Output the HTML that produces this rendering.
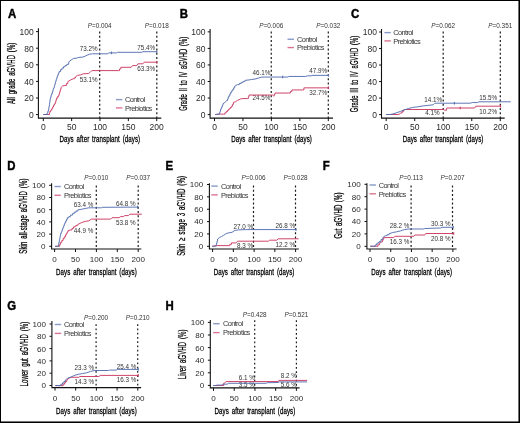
<!DOCTYPE html>
<html><head><meta charset="utf-8"><style>
html,body{margin:0;padding:0;background:#fff;}
#fig{position:absolute;left:0;top:0;width:520px;height:423px;box-sizing:border-box;border:1px solid #000;background:#fff;overflow:hidden;}
svg{position:absolute;left:-1px;top:-1px;will-change:transform;}
text{font-family:"Liberation Sans", sans-serif;}
</style></head><body><div id="fig">
<svg width="520" height="423" viewBox="0 0 520 423">
<g><text transform="translate(7.95,17.90) scale(0.92,1)" font-size="12.4" font-weight="bold" fill="#000" stroke="#000" stroke-width="0.45">A</text><path d="M38.40 28.30V118.10H161.25" fill="none" stroke="#111" stroke-width="1.1"/><path d="M36.00 114.60H38.40 M36.00 98.00H38.40 M36.00 81.40H38.40 M36.00 64.80H38.40 M36.00 48.20H38.40 M36.00 31.60H38.40 M43.30 118.10V121.10 M71.65 118.10V121.10 M100.00 118.10V121.10 M128.35 118.10V121.10 M156.70 118.10V121.10" stroke="#111" stroke-width="1"/><text x="33.80" y="117.95" font-size="8.50" text-anchor="end" fill="#2a2a2a">0</text><text x="33.80" y="101.35" font-size="8.50" text-anchor="end" fill="#2a2a2a">20</text><text x="33.80" y="84.75" font-size="8.50" text-anchor="end" fill="#2a2a2a">40</text><text x="33.80" y="68.15" font-size="8.50" text-anchor="end" fill="#2a2a2a">60</text><text x="33.80" y="51.55" font-size="8.50" text-anchor="end" fill="#2a2a2a">80</text><text x="33.80" y="34.95" font-size="8.50" text-anchor="end" fill="#2a2a2a">100</text><text x="43.30" y="130.10" font-size="8.50" text-anchor="middle" fill="#2a2a2a">0</text><text x="71.65" y="130.10" font-size="8.50" text-anchor="middle" fill="#2a2a2a">50</text><text x="100.00" y="130.10" font-size="8.50" text-anchor="middle" fill="#2a2a2a">100</text><text x="128.35" y="130.10" font-size="8.50" text-anchor="middle" fill="#2a2a2a">150</text><text x="156.70" y="130.10" font-size="8.50" text-anchor="middle" fill="#2a2a2a">200</text><text x="99.83" y="142.30" font-size="9.2" font-weight="normal" text-anchor="middle" textLength="80.8" lengthAdjust="spacingAndGlyphs" fill="#000" stroke="#000" stroke-width="0.3" word-spacing="1.6" letter-spacing="0.1">Days after transplant (days)</text><text transform="translate(15.49,73.30) rotate(-90)" x="0" y="0" font-size="10.4" font-weight="normal" text-anchor="middle" textLength="61.40" lengthAdjust="spacingAndGlyphs" fill="#000" stroke="#000" stroke-width="0.3" word-spacing="1.8" letter-spacing="0.2">All grade aGVHD (%)</text><path d="M99.70 31.60V118.10" stroke="#1a1a1a" stroke-width="1.2" stroke-dasharray="1.8 2.45"/><path d="M156.80 31.60V118.10" stroke="#1a1a1a" stroke-width="1.2" stroke-dasharray="1.8 2.45"/><text x="99.70" y="27.80" font-size="6.4" text-anchor="middle" fill="#333"><tspan font-style="italic">P</tspan>=0.004</text><text x="156.80" y="27.80" font-size="6.4" text-anchor="middle" fill="#333"><tspan font-style="italic">P</tspan>=0.018</text><path d="M116.00 99.60h6.4" stroke="#5470b0" stroke-width="1.4" opacity="0.7"/><path d="M116.00 107.90h6.4" stroke="#cc3a62" stroke-width="1.4" opacity="0.7"/><text x="124.90" y="102.30" font-size="7.4" textLength="20.2" lengthAdjust="spacing" fill="#333">Control</text><text x="124.90" y="110.60" font-size="7.4" textLength="27.4" lengthAdjust="spacing" fill="#333">Prebiotics</text><text x="97.50" y="50.70" font-size="6.3" text-anchor="end" fill="#333">73.2%</text><text x="97.50" y="81.70" font-size="6.3" text-anchor="end" fill="#333">53.1%</text><text x="155.20" y="49.80" font-size="6.3" text-anchor="end" fill="#333">75.4%</text><text x="155.20" y="71.10" font-size="6.3" text-anchor="end" fill="#333">63.3%</text><path d="M43.30 114.50 L49.00 114.50 L49.45 114.50 L49.45 112.95 L49.90 112.95 L49.90 111.40 L50.80 111.40 L50.80 110.08 L51.70 110.08 L51.70 108.75 L52.60 108.75 L52.60 106.97 L53.50 106.97 L53.50 105.20 L54.40 105.20 L54.40 103.85 L55.30 103.85 L55.30 102.50 L55.73 102.50 L55.73 101.00 L56.17 101.00 L56.17 99.50 L56.60 99.50 L56.60 98.00 L57.75 98.00 L57.75 96.20 L58.90 96.20 L58.90 94.40 L59.33 94.40 L59.33 93.03 L59.77 93.03 L59.77 91.67 L60.20 91.67 L60.20 90.30 L60.65 90.30 L60.65 88.85 L61.10 88.85 L61.10 87.40 L62.50 86.00 L64.90 85.50 L66.35 85.50 L66.35 83.58 L67.80 83.58 L67.80 81.65 L70.20 80.20 L73.10 78.80 L74.30 78.80 L74.30 77.80 L75.50 77.80 L75.50 76.80 L77.40 75.40 L80.80 74.90 L83.20 73.80 L88.50 73.50 L89.90 72.50 L91.80 70.60 L118.30 70.60 L119.55 70.60 L119.55 68.95 L120.80 68.95 L120.80 67.30 L131.20 67.30 L132.50 65.60 L136.80 65.60 L138.00 63.80 L142.90 63.80 L144.20 62.20 L156.80 62.20" fill="none" stroke="#cc3a62" stroke-width="0.95" stroke-linejoin="miter"/><path d="M43.30 114.50 L46.50 114.50 L47.17 114.50 L47.17 112.87 L47.83 112.87 L47.83 111.23 L48.50 111.23 L48.50 109.60 L48.80 109.60 L48.80 107.83 L49.10 107.83 L49.10 106.07 L49.40 106.07 L49.40 104.30 L49.62 104.30 L49.62 102.72 L49.85 102.72 L49.85 101.15 L50.07 101.15 L50.07 99.58 L50.30 99.58 L50.30 98.00 L50.77 98.00 L50.77 96.50 L51.23 96.50 L51.23 95.00 L51.70 95.00 L51.70 93.50 L52.35 93.50 L52.35 91.70 L53.00 91.70 L53.00 89.90 L53.80 88.00 L54.20 88.00 L54.20 86.54 L54.60 86.54 L54.60 85.08 L55.00 85.08 L55.00 83.62 L55.40 83.62 L55.40 82.16 L55.80 82.16 L55.80 80.70 L56.27 80.70 L56.27 79.25 L56.75 79.25 L56.75 77.80 L57.23 77.80 L57.23 76.35 L57.70 76.35 L57.70 74.90 L58.40 74.90 L58.40 73.25 L59.10 73.25 L59.10 71.60 L60.60 71.60 L60.60 69.60 L62.05 69.60 L62.05 68.17 L63.50 68.17 L63.50 66.75 L65.15 66.75 L65.15 65.53 L66.80 65.53 L66.80 64.30 L68.75 64.30 L68.75 61.90 L71.15 60.00 L73.60 58.40 L76.90 58.10 L78.80 57.40 L82.70 57.10 L85.10 56.20 L87.00 55.20 L89.40 54.25 L92.30 53.80 L107.80 53.80 L108.50 52.90 L116.50 52.90 L117.70 52.30 L141.70 52.30 L142.90 51.70 L156.80 51.70" fill="none" stroke="#5470b0" stroke-width="0.95" stroke-linejoin="miter"/><path d="M111.50 51.60V54.20" stroke="#5470b0" stroke-width="1.1"/><path d="M156.80 50.40V53.00" stroke="#5470b0" stroke-width="1.1"/><path d="M156.80 60.90V63.50" stroke="#cc3a62" stroke-width="1.1"/></g>
<g><text transform="translate(179.65,17.90) scale(0.92,1)" font-size="12.4" font-weight="bold" fill="#000" stroke="#000" stroke-width="0.45">B</text><path d="M210.10 28.90V118.10H333.00" fill="none" stroke="#111" stroke-width="1.1"/><path d="M207.70 114.60H210.10 M207.70 98.05H210.10 M207.70 81.50H210.10 M207.70 64.95H210.10 M207.70 48.40H210.10 M207.70 31.85H210.10 M214.50 118.10V121.10 M242.95 118.10V121.10 M271.40 118.10V121.10 M299.85 118.10V121.10 M328.30 118.10V121.10" stroke="#111" stroke-width="1"/><text x="205.50" y="117.95" font-size="8.50" text-anchor="end" fill="#2a2a2a">0</text><text x="205.50" y="101.40" font-size="8.50" text-anchor="end" fill="#2a2a2a">20</text><text x="205.50" y="84.85" font-size="8.50" text-anchor="end" fill="#2a2a2a">40</text><text x="205.50" y="68.30" font-size="8.50" text-anchor="end" fill="#2a2a2a">60</text><text x="205.50" y="51.75" font-size="8.50" text-anchor="end" fill="#2a2a2a">80</text><text x="205.50" y="35.20" font-size="8.50" text-anchor="end" fill="#2a2a2a">100</text><text x="214.50" y="130.10" font-size="8.50" text-anchor="middle" fill="#2a2a2a">0</text><text x="242.95" y="130.10" font-size="8.50" text-anchor="middle" fill="#2a2a2a">50</text><text x="271.40" y="130.10" font-size="8.50" text-anchor="middle" fill="#2a2a2a">100</text><text x="299.85" y="130.10" font-size="8.50" text-anchor="middle" fill="#2a2a2a">150</text><text x="328.30" y="130.10" font-size="8.50" text-anchor="middle" fill="#2a2a2a">200</text><text x="271.55" y="142.30" font-size="9.2" font-weight="normal" text-anchor="middle" textLength="80.8" lengthAdjust="spacingAndGlyphs" fill="#000" stroke="#000" stroke-width="0.3" word-spacing="1.6" letter-spacing="0.1">Days after transplant (days)</text><text transform="translate(187.09,73.70) rotate(-90)" x="0" y="0" font-size="10.4" font-weight="normal" text-anchor="middle" textLength="74.20" lengthAdjust="spacingAndGlyphs" fill="#000" stroke="#000" stroke-width="0.3" word-spacing="1.8" letter-spacing="0.2">Grade II to IV aGVHD (%)</text><path d="M271.25 31.60V118.10" stroke="#1a1a1a" stroke-width="1.2" stroke-dasharray="1.8 2.45"/><path d="M328.30 31.60V118.10" stroke="#1a1a1a" stroke-width="1.2" stroke-dasharray="1.8 2.45"/><text x="271.25" y="27.80" font-size="6.4" text-anchor="middle" fill="#333"><tspan font-style="italic">P</tspan>=0.006</text><text x="328.30" y="27.80" font-size="6.4" text-anchor="middle" fill="#333"><tspan font-style="italic">P</tspan>=0.032</text><path d="M287.50 39.25h6.4" stroke="#5470b0" stroke-width="1.4" opacity="0.7"/><path d="M287.50 47.55h6.4" stroke="#cc3a62" stroke-width="1.4" opacity="0.7"/><text x="297.00" y="41.95" font-size="7.4" textLength="20.2" lengthAdjust="spacing" fill="#333">Control</text><text x="297.00" y="50.25" font-size="7.4" textLength="27.4" lengthAdjust="spacing" fill="#333">Prebiotics</text><text x="270.40" y="74.60" font-size="6.3" text-anchor="end" fill="#333">46.1%</text><text x="270.40" y="100.20" font-size="6.3" text-anchor="end" fill="#333">24.5%</text><text x="327.20" y="73.00" font-size="6.3" text-anchor="end" fill="#333">47.9%</text><text x="327.20" y="94.90" font-size="6.3" text-anchor="end" fill="#333">32.7%</text><path d="M215.20 114.50 L220.40 114.10 L223.60 114.15 L224.90 114.15 L224.90 112.85 L226.20 112.85 L226.20 111.55 L227.50 111.55 L227.50 110.25 L228.80 110.25 L228.80 108.95 L230.10 108.95 L230.10 107.65 L231.40 107.65 L231.40 106.35 L232.40 106.35 L232.40 104.40 L233.40 104.40 L233.40 102.45 L235.30 101.85 L237.30 100.55 L240.50 98.95 L243.10 98.55 L247.70 98.55 L248.35 98.55 L248.35 96.80 L249.00 96.80 L249.00 95.05 L272.70 95.05 L273.50 95.85 L274.25 95.85 L274.25 94.45 L275.00 94.45 L275.00 93.05 L288.80 93.05 L290.35 93.05 L290.35 91.50 L291.90 91.50 L291.90 89.95 L302.70 89.95 L303.90 89.95 L303.90 87.85 L328.50 87.85" fill="none" stroke="#cc3a62" stroke-width="0.95" stroke-linejoin="miter"/><path d="M215.20 114.50 L219.10 114.10 L219.57 114.10 L219.57 112.66 L220.05 112.66 L220.05 111.22 L220.53 111.22 L220.53 109.79 L221.00 109.79 L221.00 108.35 L221.67 108.35 L221.67 106.82 L222.33 106.82 L222.33 105.28 L223.00 105.28 L223.00 103.75 L224.90 102.45 L226.90 100.55 L227.53 100.55 L227.53 99.02 L228.17 99.02 L228.17 97.48 L228.80 97.48 L228.80 95.95 L229.80 95.95 L229.80 94.00 L230.80 94.00 L230.80 92.05 L231.75 92.05 L231.75 90.75 L232.70 90.75 L232.70 89.45 L233.70 89.45 L233.70 87.85 L234.70 87.85 L234.70 86.25 L237.30 84.65 L239.25 84.65 L239.25 83.50 L241.20 83.50 L241.20 82.35 L243.15 82.35 L243.15 81.35 L245.10 81.35 L245.10 80.35 L249.00 79.95 L251.60 79.45 L255.00 79.05 L258.10 78.15 L261.90 77.05 L288.10 77.05 L288.80 76.45 L305.80 76.45 L307.30 75.85 L311.20 75.85 L311.90 75.35 L328.50 75.35" fill="none" stroke="#5470b0" stroke-width="0.95" stroke-linejoin="miter"/><path d="M282.70 75.75V78.35" stroke="#5470b0" stroke-width="1.1"/><path d="M328.50 74.05V76.65" stroke="#5470b0" stroke-width="1.1"/><path d="M328.50 86.55V89.15" stroke="#cc3a62" stroke-width="1.1"/></g>
<g><text transform="translate(350.90,17.90) scale(0.92,1)" font-size="12.4" font-weight="bold" fill="#000" stroke="#000" stroke-width="0.45">C</text><path d="M381.50 29.10V118.10H504.70" fill="none" stroke="#111" stroke-width="1.1"/><path d="M379.10 114.60H381.50 M379.10 98.08H381.50 M379.10 81.56H381.50 M379.10 65.04H381.50 M379.10 48.52H381.50 M379.10 32.00H381.50 M386.20 118.10V121.10 M414.73 118.10V121.10 M443.25 118.10V121.10 M471.77 118.10V121.10 M500.30 118.10V121.10" stroke="#111" stroke-width="1"/><text x="376.90" y="117.95" font-size="8.50" text-anchor="end" fill="#2a2a2a">0</text><text x="376.90" y="101.43" font-size="8.50" text-anchor="end" fill="#2a2a2a">20</text><text x="376.90" y="84.91" font-size="8.50" text-anchor="end" fill="#2a2a2a">40</text><text x="376.90" y="68.39" font-size="8.50" text-anchor="end" fill="#2a2a2a">60</text><text x="376.90" y="51.87" font-size="8.50" text-anchor="end" fill="#2a2a2a">80</text><text x="376.90" y="35.35" font-size="8.50" text-anchor="end" fill="#2a2a2a">100</text><text x="386.20" y="130.10" font-size="8.50" text-anchor="middle" fill="#2a2a2a">0</text><text x="414.73" y="130.10" font-size="8.50" text-anchor="middle" fill="#2a2a2a">50</text><text x="443.25" y="130.10" font-size="8.50" text-anchor="middle" fill="#2a2a2a">100</text><text x="471.77" y="130.10" font-size="8.50" text-anchor="middle" fill="#2a2a2a">150</text><text x="500.30" y="130.10" font-size="8.50" text-anchor="middle" fill="#2a2a2a">200</text><text x="443.10" y="142.30" font-size="9.2" font-weight="normal" text-anchor="middle" textLength="80.8" lengthAdjust="spacingAndGlyphs" fill="#000" stroke="#000" stroke-width="0.3" word-spacing="1.6" letter-spacing="0.1">Days after transplant (days)</text><text transform="translate(358.34,73.90) rotate(-90)" x="0" y="0" font-size="10.4" font-weight="normal" text-anchor="middle" textLength="76.60" lengthAdjust="spacingAndGlyphs" fill="#000" stroke="#000" stroke-width="0.3" word-spacing="1.8" letter-spacing="0.2">Grade III to IV aGVHD (%)</text><path d="M443.20 31.60V118.10" stroke="#1a1a1a" stroke-width="1.2" stroke-dasharray="1.8 2.45"/><path d="M500.30 31.60V118.10" stroke="#1a1a1a" stroke-width="1.2" stroke-dasharray="1.8 2.45"/><text x="443.20" y="27.80" font-size="6.4" text-anchor="middle" fill="#333"><tspan font-style="italic">P</tspan>=0.062</text><text x="500.30" y="27.80" font-size="6.4" text-anchor="middle" fill="#333"><tspan font-style="italic">P</tspan>=0.351</text><path d="M384.40 32.60h6.4" stroke="#5470b0" stroke-width="1.4" opacity="0.7"/><path d="M384.40 40.90h6.4" stroke="#cc3a62" stroke-width="1.4" opacity="0.7"/><text x="393.30" y="35.30" font-size="7.4" textLength="20.2" lengthAdjust="spacing" fill="#333">Control</text><text x="393.30" y="43.60" font-size="7.4" textLength="27.4" lengthAdjust="spacing" fill="#333">Prebiotics</text><text x="442.00" y="102.10" font-size="6.3" text-anchor="end" fill="#333">14.1%</text><text x="439.50" y="115.10" font-size="6.3" text-anchor="end" fill="#333">4.1%</text><text x="497.00" y="99.90" font-size="6.3" text-anchor="end" fill="#333">15.5%</text><text x="497.00" y="113.80" font-size="6.3" text-anchor="end" fill="#333">10.2%</text><path d="M386.10 114.50 L398.80 114.50 L400.90 112.90 L402.25 112.90 L402.25 111.40 L403.60 111.40 L403.60 109.90 L404.90 109.50 L443.30 109.50 L444.60 110.20 L446.60 110.20 L446.60 108.20 L447.20 108.00 L474.60 108.00 L475.80 106.20 L500.60 106.20" fill="none" stroke="#cc3a62" stroke-width="0.95" stroke-linejoin="miter"/><path d="M386.10 114.50 L390.10 114.50 L392.80 114.00 L396.20 112.90 L400.20 111.50 L404.20 109.90 L408.30 108.60 L412.30 107.50 L417.70 106.80 L423.10 105.90 L427.10 105.50 L433.20 104.80 L434.50 103.50 L435.90 103.20 L470.30 103.20 L472.50 102.55 L477.50 102.55 L479.00 101.80 L510.70 101.80" fill="none" stroke="#5470b0" stroke-width="0.95" stroke-linejoin="miter"/><path d="M454.40 101.90V104.50" stroke="#5470b0" stroke-width="1.1"/><path d="M460.20 106.70V109.30" stroke="#cc3a62" stroke-width="1.1"/><path d="M500.60 104.90V107.50" stroke="#cc3a62" stroke-width="1.1"/></g>
<g><text transform="translate(7.15,169.50) scale(0.92,1)" font-size="12.4" font-weight="bold" fill="#000" stroke="#000" stroke-width="0.45">D</text><path d="M51.60 183.20V249.00H141.30" fill="none" stroke="#111" stroke-width="1.1"/><path d="M49.20 246.30H51.60 M49.20 234.10H51.60 M49.20 221.90H51.60 M49.20 209.70H51.60 M49.20 197.50H51.60 M49.20 185.30H51.60 M54.60 249.00V252.00 M75.50 249.00V252.00 M96.40 249.00V252.00 M117.30 249.00V252.00 M138.20 249.00V252.00" stroke="#111" stroke-width="1"/><text x="45.40" y="249.10" font-size="8.07" text-anchor="end" fill="#2a2a2a">0</text><text x="45.40" y="236.90" font-size="8.07" text-anchor="end" fill="#2a2a2a">20</text><text x="45.40" y="224.70" font-size="8.07" text-anchor="end" fill="#2a2a2a">40</text><text x="45.40" y="212.50" font-size="8.07" text-anchor="end" fill="#2a2a2a">60</text><text x="45.40" y="200.30" font-size="8.07" text-anchor="end" fill="#2a2a2a">80</text><text x="45.40" y="188.10" font-size="8.07" text-anchor="end" fill="#2a2a2a">100</text><text x="54.60" y="262.00" font-size="8.07" text-anchor="middle" fill="#2a2a2a">0</text><text x="75.50" y="262.00" font-size="8.07" text-anchor="middle" fill="#2a2a2a">50</text><text x="96.40" y="262.00" font-size="8.07" text-anchor="middle" fill="#2a2a2a">100</text><text x="117.30" y="262.00" font-size="8.07" text-anchor="middle" fill="#2a2a2a">150</text><text x="138.20" y="262.00" font-size="8.07" text-anchor="middle" fill="#2a2a2a">200</text><text x="96.45" y="274.50" font-size="9.2" font-weight="normal" text-anchor="middle" textLength="80.8" lengthAdjust="spacingAndGlyphs" fill="#000" stroke="#000" stroke-width="0.3" word-spacing="1.6" letter-spacing="0.1">Days after transplant (days)</text><text transform="translate(26.94,216.10) rotate(-90)" x="0" y="0" font-size="10.4" font-weight="normal" text-anchor="middle" textLength="75.20" lengthAdjust="spacingAndGlyphs" fill="#000" stroke="#000" stroke-width="0.3" word-spacing="1.8" letter-spacing="0.2">Skin all-stage aGVHD (%)</text><path d="M96.30 185.60V249.00" stroke="#1a1a1a" stroke-width="1.2" stroke-dasharray="1.8 2.45"/><path d="M138.20 185.60V249.00" stroke="#1a1a1a" stroke-width="1.2" stroke-dasharray="1.8 2.45"/><text x="96.30" y="180.30" font-size="6.4" text-anchor="middle" fill="#333"><tspan font-style="italic">P</tspan>=0.010</text><text x="138.20" y="180.30" font-size="6.4" text-anchor="middle" fill="#333"><tspan font-style="italic">P</tspan>=0.037</text><path d="M54.40 186.50h6.4" stroke="#5470b0" stroke-width="1.4" opacity="0.7"/><path d="M54.40 195.30h6.4" stroke="#cc3a62" stroke-width="1.4" opacity="0.7"/><text x="64.00" y="189.20" font-size="7.4" textLength="20.2" lengthAdjust="spacing" fill="#333">Control</text><text x="64.00" y="198.00" font-size="7.4" textLength="27.4" lengthAdjust="spacing" fill="#333">Prebiotics</text><text x="93.40" y="206.80" font-size="6.3" text-anchor="end" fill="#333">63.4 %</text><text x="93.40" y="233.00" font-size="6.3" text-anchor="end" fill="#333">44.9 %</text><text x="135.50" y="205.70" font-size="6.3" text-anchor="end" fill="#333">64.8 %</text><text x="135.50" y="224.80" font-size="6.3" text-anchor="end" fill="#333">53.8 %</text><path d="M55.10 246.30 L58.80 246.30 L59.70 246.30 L59.70 244.30 L60.60 244.30 L60.60 242.30 L61.85 242.30 L61.85 240.45 L63.10 240.45 L63.10 238.60 L64.30 238.60 L64.30 236.75 L65.50 236.75 L65.50 234.90 L66.33 234.90 L66.33 233.47 L67.17 233.47 L67.17 232.03 L68.00 232.03 L68.00 230.60 L70.50 230.00 L72.00 230.00 L72.00 228.45 L73.50 228.45 L73.50 226.90 L74.93 226.90 L74.93 226.10 L76.37 226.10 L76.37 225.30 L77.80 225.30 L77.80 224.50 L81.50 222.60 L85.20 221.40 L88.90 220.80 L91.40 219.10 L110.60 219.10 L112.00 217.70 L119.10 217.70 L120.60 216.60 L123.40 216.60 L124.80 215.60 L128.40 215.60 L129.80 214.20 L141.90 214.20" fill="none" stroke="#cc3a62" stroke-width="0.95" stroke-linejoin="miter"/><path d="M55.10 246.30 L58.20 246.30 L58.50 246.30 L58.50 244.68 L58.80 244.68 L58.80 243.05 L59.10 243.05 L59.10 241.43 L59.40 241.43 L59.40 239.80 L59.70 239.80 L59.70 238.28 L60.00 238.28 L60.00 236.75 L60.30 236.75 L60.30 235.22 L60.60 235.22 L60.60 233.70 L61.23 233.70 L61.23 232.07 L61.87 232.07 L61.87 230.43 L62.50 230.43 L62.50 228.80 L63.10 228.80 L63.10 227.25 L63.70 227.25 L63.70 225.70 L64.30 225.70 L64.30 224.15 L64.90 224.15 L64.90 222.60 L65.73 222.60 L65.73 220.97 L66.57 220.97 L66.57 219.33 L67.40 219.33 L67.40 217.70 L68.95 217.70 L68.95 216.45 L70.50 216.45 L70.50 215.20 L72.35 215.20 L72.35 213.70 L74.20 213.70 L74.20 212.20 L76.00 212.20 L76.00 211.05 L77.80 211.05 L77.80 209.90 L81.50 209.30 L85.20 208.50 L88.90 207.80 L101.40 207.80 L102.10 207.30 L137.60 207.10" fill="none" stroke="#5470b0" stroke-width="0.95" stroke-linejoin="miter"/><path d="M137.60 205.80V208.40" stroke="#5470b0" stroke-width="1.1"/></g>
<g><text transform="translate(165.40,169.50) scale(0.92,1)" font-size="12.4" font-weight="bold" fill="#000" stroke="#000" stroke-width="0.45">E</text><path d="M209.40 183.20V249.00H298.80" fill="none" stroke="#111" stroke-width="1.1"/><path d="M207.00 246.30H209.40 M207.00 233.94H209.40 M207.00 221.58H209.40 M207.00 209.22H209.40 M207.00 196.86H209.40 M207.00 184.50H209.40 M212.60 249.00V252.00 M233.35 249.00V252.00 M254.10 249.00V252.00 M274.85 249.00V252.00 M295.60 249.00V252.00" stroke="#111" stroke-width="1"/><text x="203.20" y="249.10" font-size="8.07" text-anchor="end" fill="#2a2a2a">0</text><text x="203.20" y="236.74" font-size="8.07" text-anchor="end" fill="#2a2a2a">20</text><text x="203.20" y="224.38" font-size="8.07" text-anchor="end" fill="#2a2a2a">40</text><text x="203.20" y="212.02" font-size="8.07" text-anchor="end" fill="#2a2a2a">60</text><text x="203.20" y="199.66" font-size="8.07" text-anchor="end" fill="#2a2a2a">80</text><text x="203.20" y="187.30" font-size="8.07" text-anchor="end" fill="#2a2a2a">100</text><text x="212.60" y="262.00" font-size="8.07" text-anchor="middle" fill="#2a2a2a">0</text><text x="233.35" y="262.00" font-size="8.07" text-anchor="middle" fill="#2a2a2a">50</text><text x="254.10" y="262.00" font-size="8.07" text-anchor="middle" fill="#2a2a2a">100</text><text x="274.85" y="262.00" font-size="8.07" text-anchor="middle" fill="#2a2a2a">150</text><text x="295.60" y="262.00" font-size="8.07" text-anchor="middle" fill="#2a2a2a">200</text><text x="254.10" y="274.50" font-size="9.2" font-weight="normal" text-anchor="middle" textLength="80.8" lengthAdjust="spacingAndGlyphs" fill="#000" stroke="#000" stroke-width="0.3" word-spacing="1.6" letter-spacing="0.1">Days after transplant (days)</text><text transform="translate(184.74,215.85) rotate(-90)" x="0" y="0" font-size="10.4" font-weight="normal" text-anchor="middle" textLength="79.90" lengthAdjust="spacingAndGlyphs" fill="#000" stroke="#000" stroke-width="0.3" word-spacing="1.8" letter-spacing="0.2">Skin ≥ stage 3 aGVHD (%)</text><path d="M253.50 185.60V249.00" stroke="#1a1a1a" stroke-width="1.2" stroke-dasharray="1.8 2.45"/><path d="M295.50 185.60V249.00" stroke="#1a1a1a" stroke-width="1.2" stroke-dasharray="1.8 2.45"/><text x="253.50" y="180.30" font-size="6.4" text-anchor="middle" fill="#333"><tspan font-style="italic">P</tspan>=0.006</text><text x="295.50" y="180.30" font-size="6.4" text-anchor="middle" fill="#333"><tspan font-style="italic">P</tspan>=0.028</text><path d="M211.30 186.10h6.4" stroke="#5470b0" stroke-width="1.4" opacity="0.7"/><path d="M211.30 194.90h6.4" stroke="#cc3a62" stroke-width="1.4" opacity="0.7"/><text x="221.00" y="188.80" font-size="7.4" textLength="20.2" lengthAdjust="spacing" fill="#333">Control</text><text x="221.00" y="197.60" font-size="7.4" textLength="27.4" lengthAdjust="spacing" fill="#333">Prebiotics</text><text x="253.00" y="228.90" font-size="6.3" text-anchor="end" fill="#333">27.0 %</text><text x="253.00" y="248.40" font-size="6.3" text-anchor="end" fill="#333">8.3 %</text><text x="295.20" y="228.20" font-size="6.3" text-anchor="end" fill="#333">26.8 %</text><text x="295.20" y="246.70" font-size="6.3" text-anchor="end" fill="#333">12.2 %</text><path d="M212.30 246.25 L216.60 245.60 L228.20 245.60 L229.85 245.60 L229.85 244.25 L231.50 244.25 L231.50 242.90 L235.80 242.90 L237.80 241.20 L268.30 241.20 L269.70 240.20 L276.90 240.20 L278.10 238.80 L298.60 238.80" fill="none" stroke="#cc3a62" stroke-width="0.95" stroke-linejoin="miter"/><path d="M212.30 246.25 L215.70 246.25 L216.15 246.25 L216.15 244.57 L216.60 244.57 L216.60 242.90 L217.10 242.90 L217.10 240.95 L217.60 240.95 L217.60 239.00 L219.50 237.60 L221.40 236.60 L223.80 235.20 L226.20 233.50 L229.10 232.80 L232.00 232.30 L234.90 230.40 L238.70 229.90 L245.50 229.60 L296.00 229.60" fill="none" stroke="#5470b0" stroke-width="0.95" stroke-linejoin="miter"/><path d="M296.00 228.30V230.90" stroke="#5470b0" stroke-width="1.1"/></g>
<g><text transform="translate(322.65,169.50) scale(0.92,1)" font-size="12.4" font-weight="bold" fill="#000" stroke="#000" stroke-width="0.45">F</text><path d="M366.90 183.20V249.00H456.60" fill="none" stroke="#111" stroke-width="1.1"/><path d="M364.50 246.30H366.90 M364.50 233.90H366.90 M364.50 221.50H366.90 M364.50 209.10H366.90 M364.50 196.70H366.90 M364.50 184.30H366.90 M370.00 249.00V252.00 M390.73 249.00V252.00 M411.45 249.00V252.00 M432.17 249.00V252.00 M452.90 249.00V252.00" stroke="#111" stroke-width="1"/><text x="360.70" y="249.10" font-size="8.07" text-anchor="end" fill="#2a2a2a">0</text><text x="360.70" y="236.70" font-size="8.07" text-anchor="end" fill="#2a2a2a">20</text><text x="360.70" y="224.30" font-size="8.07" text-anchor="end" fill="#2a2a2a">40</text><text x="360.70" y="211.90" font-size="8.07" text-anchor="end" fill="#2a2a2a">60</text><text x="360.70" y="199.50" font-size="8.07" text-anchor="end" fill="#2a2a2a">80</text><text x="360.70" y="187.10" font-size="8.07" text-anchor="end" fill="#2a2a2a">100</text><text x="370.00" y="262.00" font-size="8.07" text-anchor="middle" fill="#2a2a2a">0</text><text x="390.73" y="262.00" font-size="8.07" text-anchor="middle" fill="#2a2a2a">50</text><text x="411.45" y="262.00" font-size="8.07" text-anchor="middle" fill="#2a2a2a">100</text><text x="432.17" y="262.00" font-size="8.07" text-anchor="middle" fill="#2a2a2a">150</text><text x="452.90" y="262.00" font-size="8.07" text-anchor="middle" fill="#2a2a2a">200</text><text x="411.75" y="274.50" font-size="9.2" font-weight="normal" text-anchor="middle" textLength="80.8" lengthAdjust="spacingAndGlyphs" fill="#000" stroke="#000" stroke-width="0.3" word-spacing="1.6" letter-spacing="0.1">Days after transplant (days)</text><text transform="translate(341.96,215.50) rotate(-90)" x="0" y="0" font-size="11.0" font-weight="normal" text-anchor="middle" textLength="46.20" lengthAdjust="spacingAndGlyphs" fill="#000" stroke="#000" stroke-width="0.3" word-spacing="1.2" letter-spacing="0.15">Gut aGVHD (%)</text><path d="M411.10 185.60V249.00" stroke="#1a1a1a" stroke-width="1.2" stroke-dasharray="1.8 2.45"/><path d="M452.50 185.60V249.00" stroke="#1a1a1a" stroke-width="1.2" stroke-dasharray="1.8 2.45"/><text x="411.10" y="180.30" font-size="6.4" text-anchor="middle" fill="#333"><tspan font-style="italic">P</tspan>=0.113</text><text x="452.50" y="180.30" font-size="6.4" text-anchor="middle" fill="#333"><tspan font-style="italic">P</tspan>=0.207</text><path d="M369.50 185.00h6.4" stroke="#5470b0" stroke-width="1.4" opacity="0.7"/><path d="M369.50 193.80h6.4" stroke="#cc3a62" stroke-width="1.4" opacity="0.7"/><text x="378.75" y="187.70" font-size="7.4" textLength="20.2" lengthAdjust="spacing" fill="#333">Control</text><text x="378.75" y="196.50" font-size="7.4" textLength="27.4" lengthAdjust="spacing" fill="#333">Prebiotics</text><text x="409.40" y="228.20" font-size="6.3" text-anchor="end" fill="#333">28.2 %</text><text x="409.40" y="243.90" font-size="6.3" text-anchor="end" fill="#333">16.3 %</text><text x="450.60" y="226.30" font-size="6.3" text-anchor="end" fill="#333">30.3 %</text><text x="450.60" y="240.80" font-size="6.3" text-anchor="end" fill="#333">20.8 %</text><path d="M370.25 246.25 L376.50 246.25 L377.95 246.25 L377.95 244.82 L379.40 244.82 L379.40 243.40 L381.80 241.90 L382.43 241.90 L382.43 240.47 L383.07 240.47 L383.07 239.03 L383.70 239.03 L383.70 237.60 L393.80 237.60 L394.80 236.30 L413.80 236.30 L414.70 235.00 L424.80 235.00 L425.80 233.50 L453.70 233.50" fill="none" stroke="#cc3a62" stroke-width="0.95" stroke-linejoin="miter"/><path d="M370.25 246.25 L373.60 246.25 L375.05 246.25 L375.05 245.03 L376.50 245.03 L376.50 243.80 L377.95 243.80 L377.95 242.60 L379.40 242.60 L379.40 241.40 L381.07 241.40 L381.07 239.50 L382.75 239.50 L382.75 237.60 L385.20 235.70 L387.10 235.70 L387.10 234.72 L389.00 234.72 L389.00 233.75 L392.80 232.50 L396.70 231.80 L400.50 230.90 L404.40 229.60 L408.20 229.00 L423.40 229.00 L424.80 228.50 L440.70 228.00 L442.10 227.30 L453.20 227.30" fill="none" stroke="#5470b0" stroke-width="0.95" stroke-linejoin="miter"/><path d="M453.20 226.00V228.60" stroke="#5470b0" stroke-width="1.1"/><path d="M453.70 232.20V234.80" stroke="#cc3a62" stroke-width="1.1"/></g>
<g><text transform="translate(7.15,309.50) scale(0.92,1)" font-size="12.4" font-weight="bold" fill="#000" stroke="#000" stroke-width="0.45">G</text><path d="M51.90 321.00V387.60H141.10" fill="none" stroke="#111" stroke-width="1.1"/><path d="M49.50 385.50H51.90 M49.50 373.20H51.90 M49.50 360.90H51.90 M49.50 348.60H51.90 M49.50 336.30H51.90 M49.50 324.00H51.90 M55.00 387.60V390.60 M75.70 387.60V390.60 M96.40 387.60V390.60 M117.10 387.60V390.60 M137.80 387.60V390.60" stroke="#111" stroke-width="1"/><text x="45.90" y="388.40" font-size="8.07" text-anchor="end" fill="#2a2a2a">0</text><text x="45.90" y="376.10" font-size="8.07" text-anchor="end" fill="#2a2a2a">20</text><text x="45.90" y="363.80" font-size="8.07" text-anchor="end" fill="#2a2a2a">40</text><text x="45.90" y="351.50" font-size="8.07" text-anchor="end" fill="#2a2a2a">60</text><text x="45.90" y="339.20" font-size="8.07" text-anchor="end" fill="#2a2a2a">80</text><text x="45.90" y="326.90" font-size="8.07" text-anchor="end" fill="#2a2a2a">100</text><text x="55.00" y="401.00" font-size="8.07" text-anchor="middle" fill="#2a2a2a">0</text><text x="75.70" y="401.00" font-size="8.07" text-anchor="middle" fill="#2a2a2a">50</text><text x="96.40" y="401.00" font-size="8.07" text-anchor="middle" fill="#2a2a2a">100</text><text x="117.10" y="401.00" font-size="8.07" text-anchor="middle" fill="#2a2a2a">150</text><text x="137.80" y="401.00" font-size="8.07" text-anchor="middle" fill="#2a2a2a">200</text><text x="96.50" y="413.50" font-size="9.2" font-weight="normal" text-anchor="middle" textLength="80.8" lengthAdjust="spacingAndGlyphs" fill="#000" stroke="#000" stroke-width="0.3" word-spacing="1.6" letter-spacing="0.1">Days after transplant (days)</text><text transform="translate(27.94,354.05) rotate(-90)" x="0" y="0" font-size="10.4" font-weight="normal" text-anchor="middle" textLength="64.70" lengthAdjust="spacingAndGlyphs" fill="#000" stroke="#000" stroke-width="0.3" word-spacing="1.8" letter-spacing="0.2">Lower gut aGVHD (%)</text><path d="M96.10 324.30V387.60" stroke="#1a1a1a" stroke-width="1.2" stroke-dasharray="1.8 2.45"/><path d="M137.70 324.30V387.60" stroke="#1a1a1a" stroke-width="1.2" stroke-dasharray="1.8 2.45"/><text x="96.10" y="319.80" font-size="6.4" text-anchor="middle" fill="#333"><tspan font-style="italic">P</tspan>=0.200</text><text x="137.70" y="319.80" font-size="6.4" text-anchor="middle" fill="#333"><tspan font-style="italic">P</tspan>=0.210</text><path d="M54.80 324.50h6.4" stroke="#5470b0" stroke-width="1.4" opacity="0.7"/><path d="M54.80 333.40h6.4" stroke="#cc3a62" stroke-width="1.4" opacity="0.7"/><text x="64.00" y="327.20" font-size="7.4" textLength="20.2" lengthAdjust="spacing" fill="#333">Control</text><text x="64.00" y="336.10" font-size="7.4" textLength="27.4" lengthAdjust="spacing" fill="#333">Prebiotics</text><text x="94.20" y="370.20" font-size="6.3" text-anchor="end" fill="#333">23.3 %</text><text x="94.20" y="383.90" font-size="6.3" text-anchor="end" fill="#333">14.3 %</text><text x="136.30" y="368.70" font-size="6.3" text-anchor="end" fill="#333">25.4 %</text><text x="136.30" y="382.40" font-size="6.3" text-anchor="end" fill="#333">16.3 %</text><path d="M55.30 385.60 L62.00 385.60 L63.20 385.60 L63.20 384.25 L64.40 384.25 L64.40 382.90 L65.60 382.90 L65.60 381.45 L66.80 381.45 L66.80 380.00 L69.20 378.10 L71.20 377.30 L78.80 377.30 L79.80 376.50 L98.80 376.50 L100.30 375.40 L138.20 375.40" fill="none" stroke="#cc3a62" stroke-width="0.95" stroke-linejoin="miter"/><path d="M55.30 385.60 L59.10 385.60 L60.80 385.60 L60.80 384.25 L62.50 384.25 L62.50 382.90 L63.95 382.90 L63.95 381.45 L65.40 381.45 L65.40 380.00 L67.80 378.10 L70.70 377.10 L75.00 375.20 L78.80 374.20 L82.70 373.50 L86.50 372.80 L90.40 371.50 L94.20 370.50 L108.40 370.50 L109.40 370.10 L116.10 370.10 L117.60 369.40 L138.20 369.40" fill="none" stroke="#5470b0" stroke-width="0.95" stroke-linejoin="miter"/><path d="M138.20 368.10V370.70" stroke="#5470b0" stroke-width="1.1"/><path d="M138.20 374.10V376.70" stroke="#cc3a62" stroke-width="1.1"/></g>
<g><text transform="translate(165.40,309.50) scale(0.92,1)" font-size="12.4" font-weight="bold" fill="#000" stroke="#000" stroke-width="0.45">H</text><path d="M210.30 320.00V387.90H299.60" fill="none" stroke="#111" stroke-width="1.1"/><path d="M207.90 385.40H210.30 M207.90 372.80H210.30 M207.90 360.20H210.30 M207.90 347.60H210.30 M207.90 335.00H210.30 M207.90 322.40H210.30 M213.50 387.90V390.90 M234.22 387.90V390.90 M254.95 387.90V390.90 M275.67 387.90V390.90 M296.40 387.90V390.90" stroke="#111" stroke-width="1"/><text x="204.30" y="388.30" font-size="8.07" text-anchor="end" fill="#2a2a2a">0</text><text x="204.30" y="375.70" font-size="8.07" text-anchor="end" fill="#2a2a2a">20</text><text x="204.30" y="363.10" font-size="8.07" text-anchor="end" fill="#2a2a2a">40</text><text x="204.30" y="350.50" font-size="8.07" text-anchor="end" fill="#2a2a2a">60</text><text x="204.30" y="337.90" font-size="8.07" text-anchor="end" fill="#2a2a2a">80</text><text x="204.30" y="325.30" font-size="8.07" text-anchor="end" fill="#2a2a2a">100</text><text x="213.50" y="401.00" font-size="8.07" text-anchor="middle" fill="#2a2a2a">0</text><text x="234.22" y="401.00" font-size="8.07" text-anchor="middle" fill="#2a2a2a">50</text><text x="254.95" y="401.00" font-size="8.07" text-anchor="middle" fill="#2a2a2a">100</text><text x="275.67" y="401.00" font-size="8.07" text-anchor="middle" fill="#2a2a2a">150</text><text x="296.40" y="401.00" font-size="8.07" text-anchor="middle" fill="#2a2a2a">200</text><text x="254.95" y="413.50" font-size="9.2" font-weight="normal" text-anchor="middle" textLength="80.8" lengthAdjust="spacingAndGlyphs" fill="#000" stroke="#000" stroke-width="0.3" word-spacing="1.6" letter-spacing="0.1">Days after transplant (days)</text><text transform="translate(185.74,354.35) rotate(-90)" x="0" y="0" font-size="10.4" font-weight="normal" text-anchor="middle" textLength="49.70" lengthAdjust="spacingAndGlyphs" fill="#000" stroke="#000" stroke-width="0.3" word-spacing="1.8" letter-spacing="0.2">Liver aGVHD (%)</text><path d="M254.70 320.20V387.90" stroke="#1a1a1a" stroke-width="1.2" stroke-dasharray="1.8 2.45"/><path d="M296.40 320.20V387.90" stroke="#1a1a1a" stroke-width="1.2" stroke-dasharray="1.8 2.45"/><text x="254.70" y="317.30" font-size="6.4" text-anchor="middle" fill="#333"><tspan font-style="italic">P</tspan>=0.428</text><text x="296.40" y="317.30" font-size="6.4" text-anchor="middle" fill="#333"><tspan font-style="italic">P</tspan>=0.521</text><path d="M213.20 323.70h6.4" stroke="#5470b0" stroke-width="1.4" opacity="0.7"/><path d="M213.20 332.60h6.4" stroke="#cc3a62" stroke-width="1.4" opacity="0.7"/><text x="222.90" y="326.40" font-size="7.4" textLength="20.2" lengthAdjust="spacing" fill="#333">Control</text><text x="222.90" y="335.30" font-size="7.4" textLength="27.4" lengthAdjust="spacing" fill="#333">Prebiotics</text><text x="254.80" y="379.80" font-size="6.3" text-anchor="end" fill="#333">6.1 %</text><text x="254.80" y="387.20" font-size="6.3" text-anchor="end" fill="#333">3.5 %</text><text x="296.90" y="377.90" font-size="6.3" text-anchor="end" fill="#333">8.2 %</text><text x="296.90" y="386.90" font-size="6.3" text-anchor="end" fill="#333">5.6 %</text><path d="M213.25 385.50 L221.90 385.50 L223.80 385.50 L223.80 383.20 L224.80 382.90 L226.20 381.55 L278.30 381.55 L278.80 380.40 L307.10 380.40" fill="none" stroke="#cc3a62" stroke-width="0.95" stroke-linejoin="miter"/><path d="M213.25 385.50 L216.10 385.50 L216.60 385.10 L221.40 385.10 L222.90 384.15 L227.20 384.15 L228.60 383.30 L266.10 383.30 L267.30 382.70 L278.30 382.50 L279.40 381.90 L307.10 381.90" fill="none" stroke="#5470b0" stroke-width="0.95" stroke-linejoin="miter"/></g>
<rect x="518" y="0" width="1" height="423" fill="#000" opacity="0.55"/><rect x="0" y="421" width="520" height="1" fill="#000" opacity="0.55"/>
</svg></div></body></html>
